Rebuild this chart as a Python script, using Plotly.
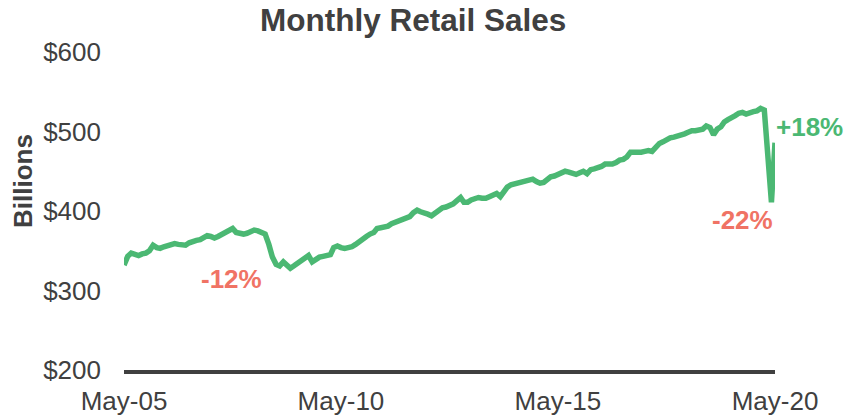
import pandas as pd
import plotly.graph_objects as go

# Monthly retail sales, $ billions, May 2005 .. May 2020
start_month = "2005-05-01"
sales = [
    332, 343, 347, 345, 344, 346, 347, 350, 357, 354, 353, 355,   # May05-Apr06
    356, 357, 359, 358, 358, 357, 360, 362, 363, 364, 366, 369,   # May06-Apr07
    368, 366, 368, 371, 373, 375, 378, 373, 372, 371, 372, 374,   # May07-Apr08
    376, 375, 373, 371, 358, 342, 333, 331, 336, 331, 328, 331,   # May08-Apr09
    334, 337, 340, 344, 336, 339, 342, 343, 344, 345, 354, 356,   # May09-Apr10
    354, 353, 354, 355, 358, 362, 365, 368, 371, 373, 378, 379,   # May10-Apr11
    380, 381, 384, 386, 387, 389, 391, 393, 398, 401, 399, 398,   # May11-Apr12
    396, 394, 398, 402, 404, 405, 407, 409, 413, 417, 411, 411,   # May12-Apr13
    414, 416, 417, 416, 416, 418, 420, 422, 418, 424, 430, 433,   # May13-Apr14
    434, 435, 436, 438, 439, 440, 437, 435, 436, 440, 443, 444,   # May14-Apr15
    446, 448, 450, 449, 447, 446, 448, 450, 447, 452, 453, 454,   # May15-Apr16
    456, 459, 459, 459, 461, 464, 465, 468, 474, 474, 473, 474,   # May16-Apr17
    475, 476, 475, 481, 485, 487, 490, 492, 493, 494, 495, 497,   # May17-Apr18
    499, 501, 501, 502, 503, 507, 505, 496, 503, 506, 512, 515,   # May18-Apr19
    517, 520, 523, 524, 522, 524, 525, 526, 529, 527, 470, 411,   # May19-Apr20
    486,                                                          # May20
]
tick_dates = ["2005-05-01", "2010-05-01", "2015-05-01", "2020-05-01"]
tick_labels = ["May-05", "May-10", "May-15", "May-20"]
y_ticks = [200, 300, 400, 500, 600]
change_labels = ["-12%", "-22%", "+18%"]

dates = pd.date_range(start_month, periods=len(sales), freq="MS")

GREEN = "#4BB873"
RED = "#F07364"
DARK = "#404040"
FONT = "Arial, 'Liberation Sans', sans-serif"

W, H = 844, 419
L, R, T, B = 124, 69, 52, 49
pw, ph = W - L - R, H - T - B


def px(x):
    return (x - L) / pw


def py(y):
    return (H - B - y) / ph


fig = go.Figure()
fig.add_trace(go.Scatter(
    x=dates, y=sales, mode="lines",
    line=dict(color=GREEN, width=5.5),
    hoverinfo="skip", showlegend=False,
))

annotations = [
    dict(text="<b>Monthly Retail Sales</b>", x=px(412.5), y=py(20),
         font=dict(size=31.5, color=DARK, family=FONT)),
    dict(text="<b>Billions</b>", x=px(23), y=py(181), textangle=-90,
         font=dict(size=26, color=DARK, family=FONT)),
    dict(text="<b>%s</b>" % change_labels[0], x=px(231), y=py(279),
         font=dict(size=26, color=RED, family=FONT)),
    dict(text="<b>%s</b>" % change_labels[1], x=px(742), y=py(220),
         font=dict(size=26, color=RED, family=FONT)),
    dict(text="<b>%s</b>" % change_labels[2], x=px(809), y=py(127),
         font=dict(size=26, color=GREEN, family=FONT)),
]
for a in annotations:
    a.update(xref="paper", yref="paper", xanchor="center", yanchor="middle",
             showarrow=False)

fig.update_layout(
    width=W, height=H,
    margin=dict(l=L, r=R, t=T, b=B, pad=0, autoexpand=False),
    paper_bgcolor="white", plot_bgcolor="white",
    font=dict(family=FONT, color=DARK),
    annotations=annotations,
    xaxis=dict(
        type="date", automargin=False,
        range=[tick_dates[0], tick_dates[-1]],
        tickmode="array", tickvals=tick_dates, ticktext=tick_labels,
        tickfont=dict(size=26, color=DARK, family=FONT),
        showgrid=False, zeroline=False,
        showline=True, linecolor=DARK, linewidth=4,
        ticks="", ticklabelstandoff=5,
    ),
    yaxis=dict(
        range=[200, 600], automargin=False,
        tickmode="array", tickvals=y_ticks,
        ticktext=["$%d" % v for v in y_ticks],
        tickfont=dict(size=26, color=DARK, family=FONT),
        showgrid=False, zeroline=False, showline=False,
        ticks="", ticklabelstandoff=22,
    ),
)

fig.write_html("out.html", include_plotlyjs=True,
               config={"displayModeBar": False},
               post_script="document.body.style.margin='0';")
